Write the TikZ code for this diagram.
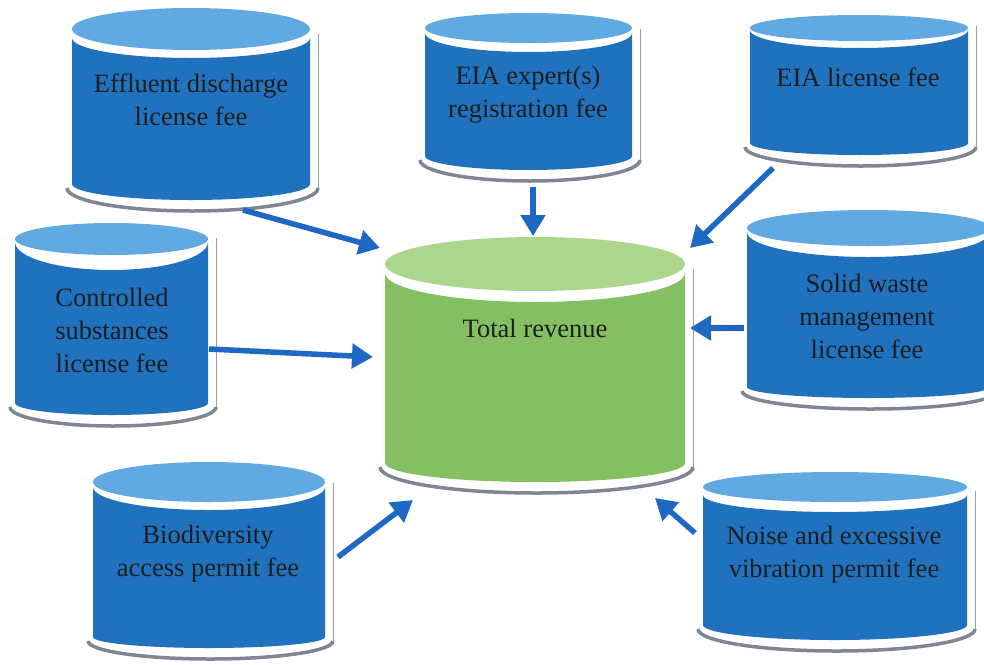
\documentclass[tikz,border=0pt]{standalone}
\usepackage{fontspec}
\setmainfont{Liberation Serif}
\usetikzlibrary{arrows.meta}
\definecolor{bodyblue}{RGB}{32,114,190}
\definecolor{lidblue}{RGB}{96,170,225}
\definecolor{bodygreen}{RGB}{132,192,98}
\definecolor{lidgreen}{RGB}{172,214,140}
\definecolor{arrowblue}{RGB}{30,104,196}
\definecolor{shadowgray}{RGB}{125,135,148}
\definecolor{txt}{RGB}{30,30,30}
\newcommand\drum[9]{%
  \pgfmathsetmacro\dcx{(#2+#3)/2}%
  \pgfmathsetmacro\drx{(#3-#2)/2}%
  \pgfmathsetmacro\dry{#5}%
  \pgfmathsetmacro\dlc{#4+#5}%
  \pgfmathsetmacro\dtop{#7-#6}%
  \pgfmathsetmacro\dbot{#9-#8}%
  \pgfmathsetmacro\dsh{#9-#8+7}%
  \pgfmathsetmacro\dshx{\drx+6.5}%
  \draw[shadowgray!80, line width=1] (#3+8,#6-4) -- (#3+8,#8+4);
  \draw[shadowgray, line width=3.5] (#2-5,#8+4) arc[start angle=180, end angle=0, x radius=\dshx, y radius=\dsh];
  \fill[\bodycol] (#2,#6) -- (#2,#8) arc[start angle=180, end angle=0, x radius=\drx, y radius=\dbot] -- (#3,#6) arc[start angle=0, end angle=180, x radius=\drx, y radius=\dtop] -- cycle;
  \fill[\lidcol] (\dcx,\dlc) ellipse[x radius=\drx, y radius=\dry];
}
\tikzset{
  lbl/.style={font=\fontsize{26.5}{33}\selectfont, text=txt, align=center, inner sep=0pt},
  feed/.style={arrowblue, line width=5.5, -{Triangle[length=21pt, width=24pt]}}
}
\begin{document}
\begin{tikzpicture}[x=1pt, y=-1pt]
\useasboundingbox (0,0) rectangle (984,664);
\clip (0,0) rectangle (984,664);
\fill[white] (0,0) rectangle (984,664);
\def\bodycol{bodyblue}\def\lidcol{lidblue}
\drum{eff}{72}{310}{8}{21}{38}{58}{184}{200}
\drum{exp}{425}{632}{13}{15}{33}{52}{156}{170}
\drum{lic}{750}{968}{15}{13}{30}{48}{143}{155}
\drum{con}{15}{208}{223}{16}{242}{270}{403}{415}
\drum{sol}{747}{990}{210}{18}{232}{257}{387}{398}
\drum{bio}{93}{325}{462}{20}{487}{510}{637}{648}
\drum{noi}{703}{967}{472}{15}{495}{512}{625}{640}
\def\bodycol{bodygreen}\def\lidcol{lidgreen}
\drum{tot}{385}{685}{237}{27}{273}{302}{463}{482}

\node[lbl] (teff) at (191,100) {Effluent discharge\\license fee};
\node[lbl] (texp) at (528,95) {EIA expert(s)\\registration fee};
\node[lbl] (tlic) at (858,77) {EIA license fee};
\node[lbl] (tcon) at (112,330) {Controlled\\substances\\license fee};
\node[lbl] (tsol) at (867,316) {Solid waste\\management\\license fee};
\node[lbl] (ttot) at (535,328) {Total revenue};
\node[lbl] (tbio) at (208,554) {Biodiversity\\access permit fee};
\node[lbl] (tnoi) at (834,555) {Noise and excessive\\vibration permit fee};

\coordinate (effout) at (243,210);
\coordinate (expout) at (533,187);
\coordinate (licout) at (773,168);
\coordinate (conout) at (209,349);
\coordinate (solout) at (744,328);
\coordinate (bioout) at (338,557);
\coordinate (noiout) at (695,533);
\coordinate (totnw) at (380,248);
\coordinate (totn) at (533,236);
\coordinate (totne) at (690,248);
\coordinate (totw) at (373,357);
\coordinate (tote) at (690,328);
\coordinate (totsw) at (413,500);
\coordinate (totse) at (655,498);

\draw[feed] (effout) -- (totnw);
\draw[feed] (expout) -- (totn);
\draw[feed] (licout) -- (totne);
\draw[feed] (conout) -- (totw);
\draw[feed] (solout) -- (tote);
\draw[feed] (bioout) -- (totsw);
\draw[feed] (noiout) -- (totse);
\end{tikzpicture}
\end{document}
